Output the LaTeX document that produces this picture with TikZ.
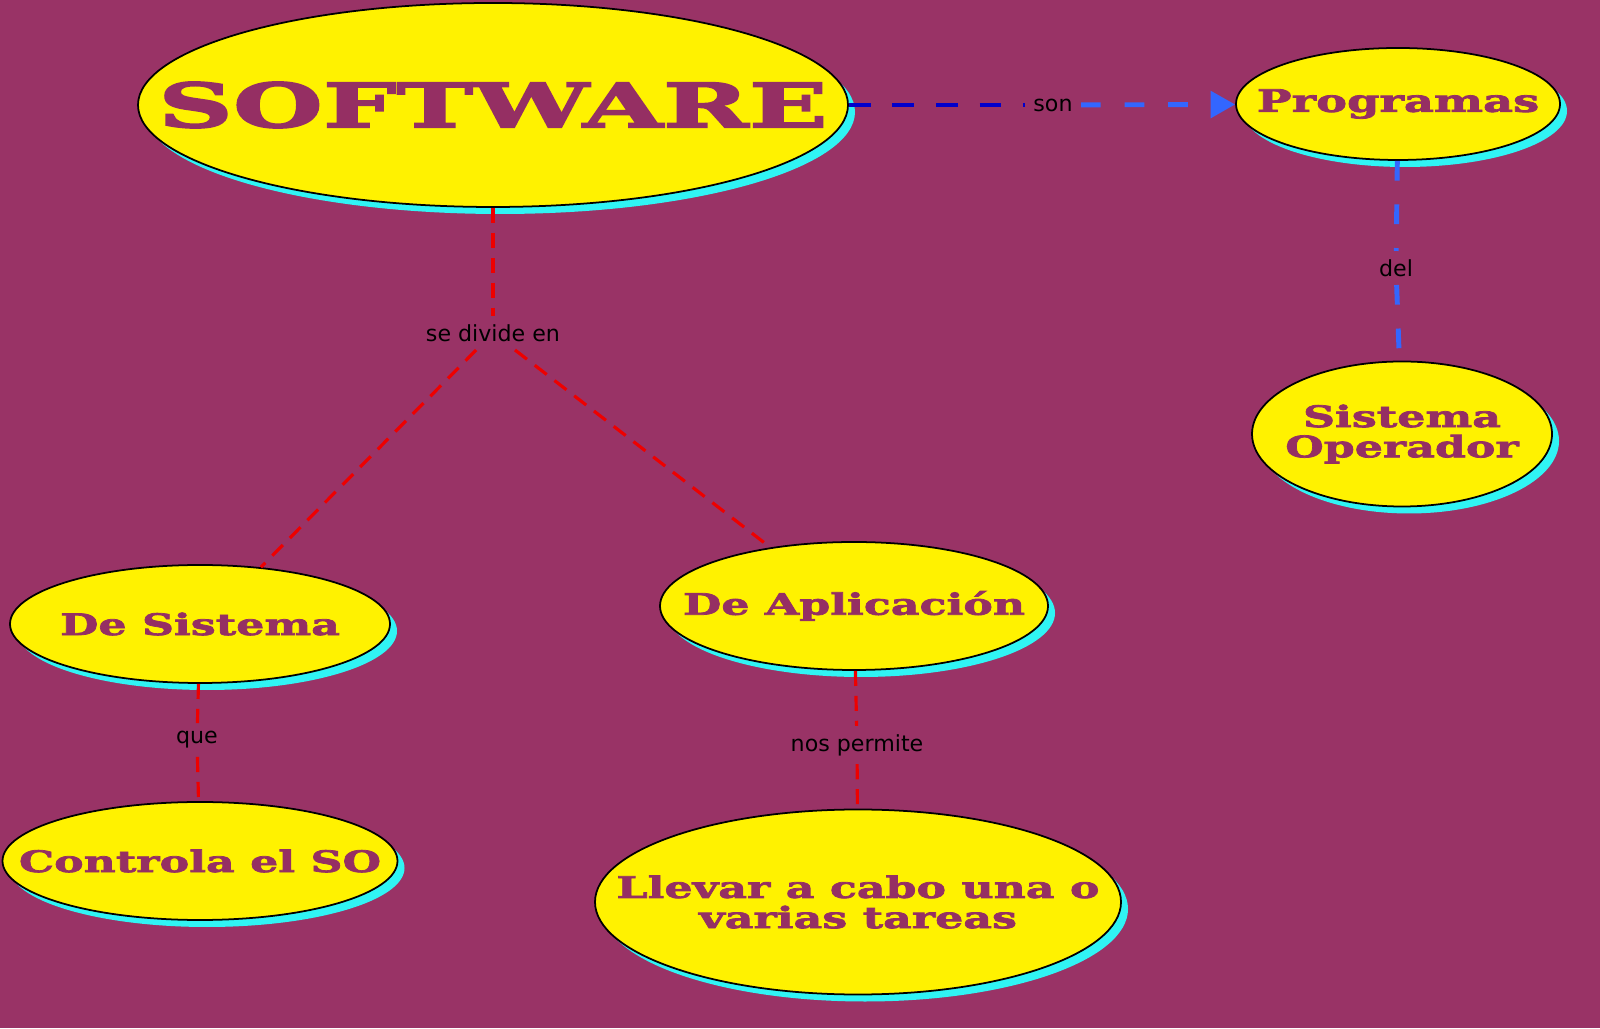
\documentclass[tikz,border=0pt]{standalone}
\usepackage{fontspec}
\setsansfont{DejaVu Sans}
\newfontfamily\widefont[FakeStretch=1.5,FakeBold=2.5]{DejaVu Serif}
\newfontfamily\widerfont[FakeStretch=1.7,FakeBold=3]{DejaVu Serif}
\usetikzlibrary{shapes}
\usetikzlibrary{shadows}
\usetikzlibrary{arrows.meta}
\definecolor{fondo}{HTML}{993366}
\definecolor{texto}{HTML}{952F63}
\definecolor{sombra}{HTML}{30F4F4}
\definecolor{azul}{HTML}{0000CC}
\definecolor{celeste}{HTML}{3366FF}
\definecolor{rojo}{HTML}{EE0000}

\begin{document}
\begin{tikzpicture}[
    thick,
    font=\sffamily\fontsize{6.3}{7.5}\selectfont
]
\tikzset{
    mynode/.style = {ellipse, draw=black, line width=0.5pt, fill=yellow, inner sep=0pt,
        drop shadow={fill=sombra, opacity=1, shadow xshift=0.07cm, shadow yshift=-0.07cm}},
    mytext/.style = {text=texto, align=center, inner sep=0pt,
        font=\widefont\bfseries\fontsize{8.4}{8.6}\selectfont},
    mybig/.style = {mytext, font=\widerfont\bfseries\fontsize{17.3}{17.3}\selectfont},
    mylabel/.style = {text=black, inner sep=2pt},
    edger/.style = {rojo, line width=0.9pt, dash pattern=on 4.3pt off 2.8pt},
    edgeb/.style = {azul, line width=1.4pt, dash pattern=on 6.2pt off 6.2pt},
    edgel/.style = {celeste, line width=1.4pt, dash pattern=on 5.6pt off 6.8pt}
}
\fill[fondo] (0,0) rectangle (16,10.28);
\node[mynode, minimum width=7.10cm, minimum height=2.04cm, label={[mybig]center:SOFTWARE}] at (4.93,9.23) (soft) {};
\node[mynode, minimum width=3.24cm, minimum height=1.12cm, label={[mytext, font=\widefont\bfseries\fontsize{8.8}{8.8}\selectfont]center:Programas}] at (13.98,9.24) (prog) {};
\node[mynode, minimum width=3.00cm, minimum height=1.45cm, label={[mytext]center:Sistema\\Operador}] at (14.02,5.94) (sisop) {};
\node[mynode, minimum width=3.80cm, minimum height=1.18cm, label={[mytext]center:De Sistema}] at (2.00,4.04) (desis) {};
\node[mynode, minimum width=3.88cm, minimum height=1.28cm, label={[mytext]center:De Aplicación}] at (8.54,4.22) (deapl) {};
\node[mynode, minimum width=3.95cm, minimum height=1.18cm, label={[mytext]center:Controla el SO}] at (2.00,1.67) (ctrl) {};
\node[mynode, minimum width=5.26cm, minimum height=1.85cm, label={[mytext]center:Llevar a cabo una o\\varias tareas}] at (8.58,1.26) (llev) {};
\node[mylabel] at (4.93,6.95) (div) {se divide en};
\node[mylabel] at (1.97,2.88) (que) {que};
\node[mylabel] at (8.57,2.83) (nos) {nos permite};
\node[mylabel] at (10.53,9.23) (son) {son};
\node[mylabel] at (13.96,7.60) (del) {del};
\draw[edger] (soft) -- (div);
\draw[edger] (div) -- (desis.43);
\draw[edger] (div) -- (deapl.145);
\draw[edger] (desis) -- (que);
\draw[edger] (que) -- (ctrl);
\draw[edger] (deapl) -- (nos);
\draw[edger] (nos) -- (llev);
\draw[edgeb] (soft) -- (son);
\draw[edgel, -{Triangle[length=7pt,width=7.5pt]}] (son) -- (prog);
\draw[edgel] (prog) -- (del);
\draw[edgel] (del) -- (sisop);
\end{tikzpicture}
\end{document}
